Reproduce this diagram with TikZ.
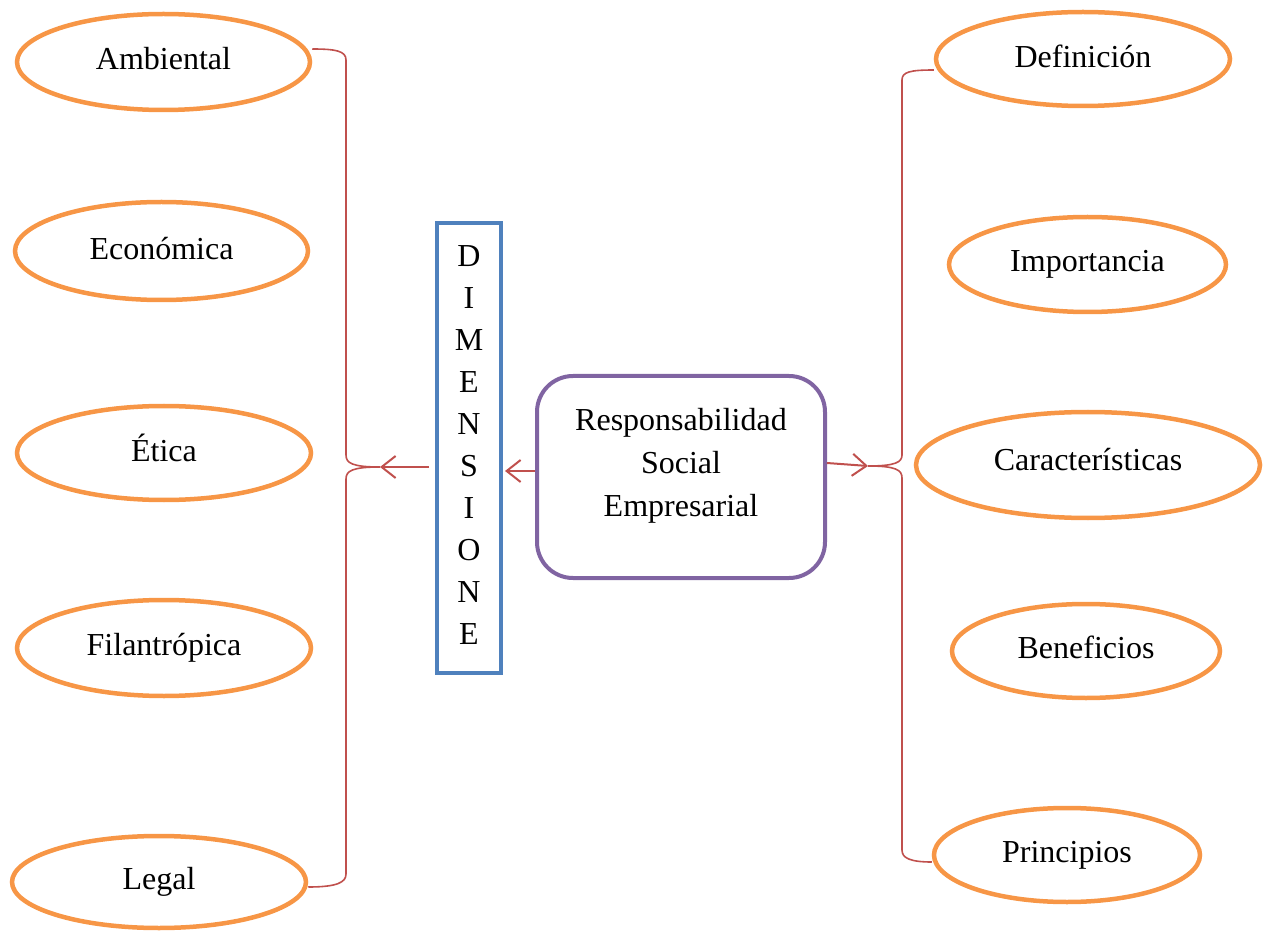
\documentclass[tikz,border=0pt]{standalone}
\usepackage{fontspec}
\setmainfont{Liberation Serif}
\usetikzlibrary{arrows.meta,shapes.geometric,calc}
\definecolor{ovalc}{HTML}{F79646}
\definecolor{bracec}{HTML}{C0504D}
\definecolor{dimc}{HTML}{4F81BD}
\definecolor{rsec}{HTML}{8064A2}
\tikzset{
  oval/.style={ellipse, draw=ovalc, line width=4.5pt, inner sep=0pt,
    font=\fontsize{32}{38}\selectfont},
  raised/.style={text depth=#1},
  bracel/.style={draw=bracec, line width=1.6pt},
  link/.style={draw=bracec, line width=2pt,
    -{Straight Barb[length=14pt,width=22pt,line width=2pt]}},
  bigtext/.style={align=center, inner sep=0pt},
}
\begin{document}
\begin{tikzpicture}[x=1pt,y=-1pt]
\useasboundingbox (0,0) rectangle (1270,933);
% dimensions on the left
\node[oval, raised=8pt, minimum width=293pt, minimum height=96pt] (amb) at (163.5,62) {Ambiental};
\node[oval, raised=6pt, minimum width=293pt, minimum height=98pt] (eco) at (161.5,251) {Económica};
\node[oval, raised=10pt, minimum width=294pt, minimum height=94pt] (eti) at (164,453) {Ética};
\node[oval, minimum width=294pt, minimum height=96pt] (fil) at (164,648) {Filantrópica};
\node[oval, minimum width=294pt, minimum height=92pt] (leg) at (159,882) {Legal};
% topics on the right
\node[oval, raised=6pt, minimum width=294pt, minimum height=94pt] (def) at (1083,59) {Definición};
\node[oval, minimum width=277pt, minimum height=95pt] (imp) at (1087.5,264.5) {Importancia};
\node[oval, raised=12pt, minimum width=344pt, minimum height=106pt] (car) at (1088,465) {Características};
\node[oval, raised=8pt, minimum width=268pt, minimum height=94pt] (ben) at (1086,651) {Beneficios};
\node[oval, minimum width=266pt, minimum height=94pt] (pri) at (1067,855) {Principios};
% vertical label box
\node[draw=dimc, line width=4pt, minimum width=64pt, minimum height=450pt, inner sep=0pt] (dim) at (469,448) {};
\node[bigtext, font=\fontsize{32}{42.1}\selectfont] (dimtext) at ($(dim.center)+(0,-3)$)
  {D\\I\\M\\E\\N\\S\\I\\O\\N\\E};
% central concept
\node[draw=rsec, line width=4pt, rounded corners=36pt, minimum width=288pt, minimum height=202pt,
  inner sep=0pt] (rse) at (681,477) {};
\node[bigtext, font=\fontsize{32}{43}\selectfont] (rsetext) at ($(rse.center)+(0,-11)$)
  {Responsabilidad\\Social\\Empresarial};
% brace tips
\coordinate (lt) at (380,467);
\coordinate (rt) at (868,466);
% left brace
\draw[bracel] ($(amb.east)+(0,-13)$) .. controls (336,49) and (346,51) .. (346,60)
  -- (346,455) .. controls (346,463) and (352,467) .. (lt)
  .. controls (352,467) and (346,471) .. (346,479)
  -- (346,874) .. controls (346,882) and (338,887) .. ($(leg.east)+(0,5)$);
% right brace
\draw[bracel] ($(def.west)+(0,11)$) .. controls (910,70) and (902,72) .. (902,80)
  -- (902,455) .. controls (902,462) and (896,466) .. (rt)
  .. controls (896,466) and (902,470) .. (902,478)
  -- (902,850) .. controls (902,858) and (910,862) .. ($(pri.west)+(0,7)$);
% arrows
\draw[link] ($(dim.west |- lt)+(-6,0)$) -- (lt);
\draw[link] (rse.west |- 0,471) -- ($(dim.east |- 0,471)+(2,0)$);
\draw[link] (rse.east |- 0,463) -- (rt);
\end{tikzpicture}
\end{document}
